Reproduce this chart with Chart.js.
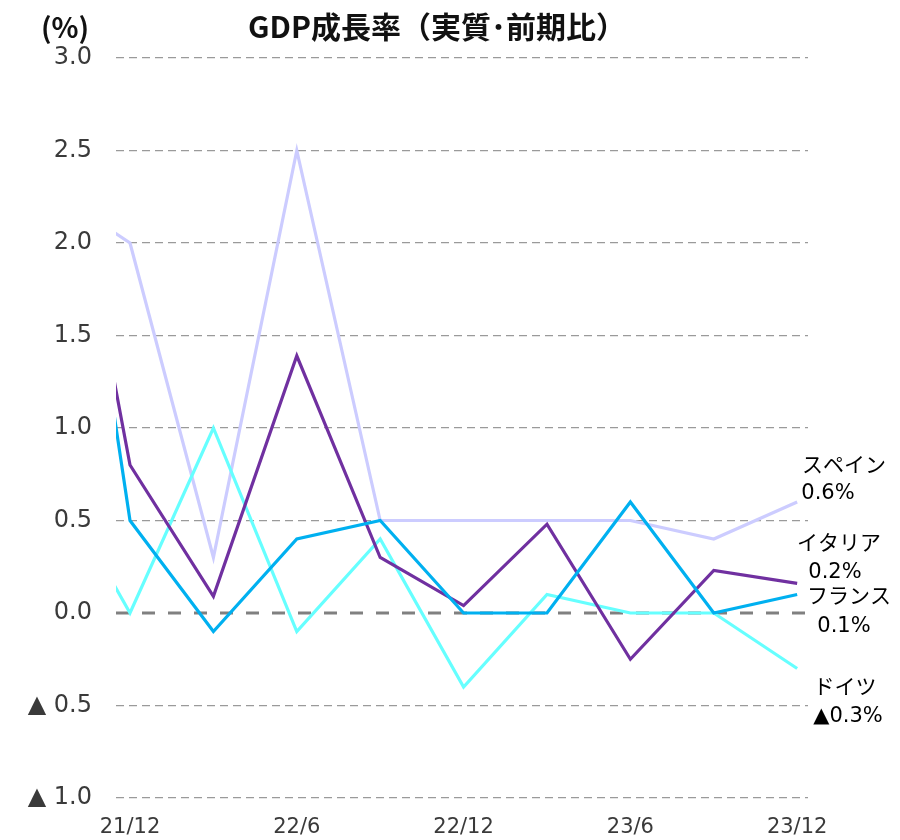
<!DOCTYPE html>
<html>
<head>
<meta charset="utf-8">
<script src="https://cdn.jsdelivr.net/npm/chart.js@4.4.1/dist/chart.umd.min.js"></script>
<style>
    html, body { margin: 0; padding: 0; background: #fff; }
    #wrap { width: 900px; height: 840px; position: relative; }
</style>
</head>
<body>
<div id="wrap"><canvas id="gdpChart"></canvas></div>
<script>
(function (global) {

    // quarters; the first one (21/9) is only there so the lines run in from the left edge
    const periods = ['21/9', '21/12', '22/3', '22/6', '22/9', '22/12', '23/3', '23/6', '23/9', '23/12'];
    const tickLabels = ['21/12', '22/6', '22/12', '23/6', '23/12'];

    const spain   = [2.3, 2.0, 0.3, 2.5, 0.5, 0.5, 0.5, 0.5, 0.4, 0.6];
    const italy   = [3.2, 0.8, 0.09, 1.39, 0.3, 0.04, 0.48, -0.25, 0.23, 0.16];
    const france  = [3.5, 0.5, -0.1, 0.4, 0.5, 0.0, 0.0, 0.6, 0.0, 0.1];
    const germany = [0.8, 0.0, 1.0, -0.1, 0.4, -0.4, 0.1, 0.0, 0.0, -0.3];

    const yTicks = [-1.0, -0.5, 0.0, 0.5, 1.0, 1.5, 2.0, 2.5, 3.0];

    const TICK_COLOR = '#3a3a3a';
    const GRID_COLOR = '#9a9a9a';

    function toPoints(values) {
        return values.map((v, i) => ({ x: i, y: v }));
    }

    function fmt(v) {
        return v < 0 ? '▲' + Math.abs(v).toFixed(1) : v.toFixed(1);
    }

    // first dataset is drawn on top
    const series = [
        { name: 'フランス', values: france,  color: '#00B0F0', dy: [3, 32] },
        { name: 'イタリア', values: italy,   color: '#7030A0', dy: [-39, -11] },
        { name: 'ドイツ',   values: germany, color: '#66FFFF', dy: [20, 48] },
        { name: 'スペイン', values: spain,   color: '#CCCCFF', dy: [-35, -8] }
    ];
    const labelX = { 'スペイン': [844, 828], 'イタリア': [839, 835], 'フランス': [849, 844], 'ドイツ': [845, 848] };

    const zeroLine = {
        id: 'zeroLine',
        beforeDatasetsDraw(chart) {
            const { ctx, chartArea, scales } = chart;
            const y = scales.y.getPixelForValue(0);
            ctx.save();
            ctx.strokeStyle = '#808080';
            ctx.lineWidth = 3;
            ctx.setLineDash([13, 13]);
            ctx.beginPath();
            ctx.moveTo(chartArea.left, y);
            ctx.lineTo(chartArea.right, y);
            ctx.stroke();
            ctx.restore();
        }
    };

    const texts = {
        id: 'texts',
        afterDraw(chart) {
            const { ctx, scales } = chart;
            ctx.save();
            ctx.fillStyle = '#111';
            ctx.textBaseline = 'middle';
            ctx.textAlign = 'center';
            ctx.font = 'bold 30px "Noto Sans CJK JP", sans-serif';
            ctx.fillText('GDP成長率（実質･前期比）', 437, 27);
            ctx.font = 'bold 28px "Noto Sans CJK JP", sans-serif';
            ctx.fillText('(%)', 65, 27);

            ctx.fillStyle = '#000';
            ctx.font = '21px "DejaVu Sans", "Noto Sans CJK JP", sans-serif';
            series.forEach((s) => {
                const last = s.values[s.values.length - 1];
                const y = scales.y.getPixelForValue(last);
                const xs = labelX[s.name];
                ctx.fillText(s.name, xs[0], y + s.dy[0]);
                ctx.fillText(fmt(last) + '%', xs[1], y + s.dy[1]);
            });
            ctx.restore();
        }
    };

    const ctx = document.getElementById('gdpChart');

    new Chart(ctx, {
        type: 'line',
        data: {
            labels: periods,
            datasets: series.map((s) => ({
                label: s.name,
                data: toPoints(s.values),
                borderColor: s.color,
                backgroundColor: s.color,
                borderWidth: 3.2,
                pointRadius: 0,
                tension: 0,
                clip: 0
            }))
        },
        options: {
            responsive: true,
            maintainAspectRatio: false,
            animation: false,
            layout: { padding: { top: 58, right: 92, left: 0, bottom: 0 } },
            plugins: {
                legend: { display: false },
                tooltip: { enabled: false }
            },
            scales: {
                x: {
                    type: 'linear',
                    min: 0.832,
                    max: 9.13,
                    afterBuildTicks: (scale) => {
                        scale.ticks = [1, 3, 5, 7, 9].map((v) => ({ value: v }));
                    },
                    afterFit: (scale) => { scale.height = 42; },
                    grid: { display: false, drawTicks: false },
                    border: { display: false },
                    ticks: {
                        autoSkip: false,
                        maxRotation: 0,
                        padding: 17,
                        color: TICK_COLOR,
                        font: { family: '"DejaVu Sans"', size: 21 },
                        callback: (v) => tickLabels[(v - 1) / 2]
                    }
                },
                y: {
                    min: -1,
                    max: 3,
                    afterBuildTicks: (scale) => {
                        scale.ticks = yTicks.map((v) => ({ value: v }));
                    },
                    afterFit: (scale) => { scale.width = 116; },
                    grid: {
                        drawTicks: false,
                        lineWidth: 1.3,
                        color: (c) => (c.tick && c.tick.value === 0 ? 'rgba(0,0,0,0)' : GRID_COLOR)
                    },
                    border: { display: false, dash: [8, 5] },
                    ticks: {
                        padding: 24,
                        color: TICK_COLOR,
                        font: { family: '"DejaVu Sans"', size: 24 },
                        callback: (v) => (v < 0 ? '▲ ' + Math.abs(v).toFixed(1) : v.toFixed(1))
                    }
                }
            }
        },
        plugins: [zeroLine, texts]
    });

}(window));
</script>
</body>
</html>
